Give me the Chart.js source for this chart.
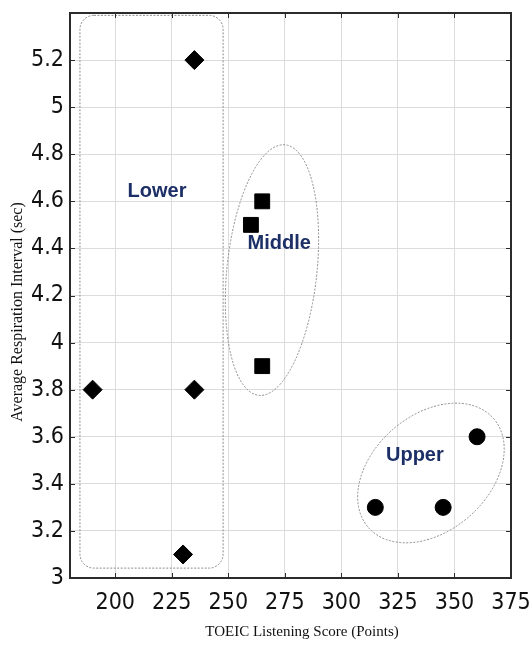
<!DOCTYPE html>
<html>
<head>
<meta charset="utf-8">
<script src="https://cdn.jsdelivr.net/npm/chart.js@4.4.0/dist/chart.umd.min.js"></script>
<style>
  html, body { margin: 0; padding: 0; background: #fff; }
  #wrap { width: 532px; height: 648px; }
</style>
</head>
<body>
<div id="wrap"><canvas id="chart"></canvas></div>
<script>
// Points per group (TOEIC score, respiration interval)
const lowerX = [235, 190, 235, 230];
const lowerY = [5.2, 3.8, 3.8, 3.1];
const middleX = [265, 260, 265];
const middleY = [4.6, 4.5, 3.9];
const upperX = [315, 345, 360];
const upperY = [3.3, 3.3, 3.6];

// Axis ticks
const xTicks = [200, 225, 250, 275, 300, 325, 350, 375];
const yTicks = [3, 3.2, 3.4, 3.6, 3.8, 4, 4.2, 4.4, 4.6, 4.8, 5, 5.2];

// Group names and where they are written (data units)
const groupNames = ["Lower", "Middle", "Upper"];
const groupNameX = [218.5, 272.5, 332.5];
const groupNameY = [4.64, 4.42, 3.52];

// Dotted outlines round each group (data units)
const lowerBox = { x0: 184.4, x1: 247.7, y0: 5.39, y1: 3.042 };
const middleEllipse = { cx: 269.3, cy: 4.308, rx: 19.9, ry: 0.535, rot: 6 };
const upperEllipse = { cx: 339.6, cy: 3.446, rx: 36.7, ry: 0.246, rot: -41 };

const tickFont = { family: "'Liberation Sans Narrow', 'DejaVu Sans Condensed', Arial, sans-serif", size: 23 };
const titleFont = "'Liberation Serif', 'Times New Roman', serif";

function toPoints(xs, ys) {
  return xs.map((v, i) => ({ x: v, y: ys[i] }));
}

// Draws outlines behind the markers
const groupOutlines = {
  id: "groupOutlines",
  beforeDatasetsDraw(chart) {
    const { ctx, scales: { x, y } } = chart;
    ctx.save();
    ctx.strokeStyle = "#8c8c8c";
    ctx.lineWidth = 1;
    ctx.setLineDash([2, 1.5]);

    // rounded box for Lower
    const bx0 = x.getPixelForValue(lowerBox.x0);
    const bx1 = x.getPixelForValue(lowerBox.x1);
    const by0 = y.getPixelForValue(lowerBox.y0);
    const by1 = y.getPixelForValue(lowerBox.y1);
    const r = 14;
    ctx.beginPath();
    ctx.moveTo(bx0 + r, by0);
    ctx.arcTo(bx1, by0, bx1, by1, r);
    ctx.arcTo(bx1, by1, bx0, by1, r);
    ctx.arcTo(bx0, by1, bx0, by0, r);
    ctx.arcTo(bx0, by0, bx1, by0, r);
    ctx.closePath();
    ctx.stroke();

    // ellipses for Middle and Upper
    [middleEllipse, upperEllipse].forEach(e => {
      const cx = x.getPixelForValue(e.cx);
      const cy = y.getPixelForValue(e.cy);
      const rx = Math.abs(x.getPixelForValue(e.cx + e.rx) - cx);
      const ry = Math.abs(y.getPixelForValue(e.cy + e.ry) - cy);
      ctx.beginPath();
      ctx.ellipse(cx, cy, rx, ry, e.rot * Math.PI / 180, 0, Math.PI * 2);
      ctx.stroke();
    });
    ctx.restore();
  },
  afterDatasetsDraw(chart) {
    const { ctx, scales: { x, y } } = chart;
    ctx.save();
    ctx.font = "bold 20px 'Liberation Sans', Arial, sans-serif";
    ctx.fillStyle = "#1c2f66";
    ctx.textAlign = "center";
    ctx.textBaseline = "middle";
    groupNames.forEach((name, i) => {
      ctx.fillText(name, x.getPixelForValue(groupNameX[i]), y.getPixelForValue(groupNameY[i]));
    });
    ctx.restore();
  },
  afterDraw(chart) {
    const { ctx, chartArea: a, scales: { x, y } } = chart;
    ctx.save();
    ctx.strokeStyle = "#2b2b2b";
    ctx.lineWidth = 1;
    // inward tick marks on all four sides
    ctx.beginPath();
    xTicks.forEach(v => {
      const px = Math.round(x.getPixelForValue(v)) + 0.5;
      ctx.moveTo(px, a.bottom); ctx.lineTo(px, a.bottom - 5);
      ctx.moveTo(px, a.top); ctx.lineTo(px, a.top + 5);
    });
    yTicks.forEach(v => {
      const py = Math.round(y.getPixelForValue(v)) + 0.5;
      ctx.moveTo(a.left, py); ctx.lineTo(a.left + 5, py);
      ctx.moveTo(a.right, py); ctx.lineTo(a.right - 5, py);
    });
    ctx.stroke();
    // frame
    ctx.lineWidth = 2;
    ctx.strokeRect(a.left, a.top, a.right - a.left, a.bottom - a.top);

    // axis titles
    ctx.fillStyle = "#111";
    ctx.textAlign = "center";
    ctx.textBaseline = "middle";
    ctx.font = "15px " + titleFont;
    ctx.fillText("TOEIC Listening Score (Points)", 302, 632);
    ctx.translate(18, 312);
    ctx.rotate(-Math.PI / 2);
    ctx.font = "16px " + titleFont;
    ctx.fillText("Average Respiration Interval (sec)", 0, 0);
    ctx.restore();
  }
};

const ctx = document.getElementById("chart").getContext("2d");
new Chart(ctx, {
  type: "scatter",
  data: {
    datasets: [
      {
        label: "Lower",
        data: toPoints(lowerX, lowerY),
        pointStyle: "rectRot",
        pointRadius: 9.5,
        backgroundColor: "#000",
        borderColor: "#000"
      },
      {
        label: "Middle",
        data: toPoints(middleX, middleY),
        pointStyle: "rect",
        pointRadius: 10.5,
        backgroundColor: "#000",
        borderColor: "#000"
      },
      {
        label: "Upper",
        data: toPoints(upperX, upperY),
        pointStyle: "circle",
        pointRadius: 8,
        backgroundColor: "#000",
        borderColor: "#000"
      }
    ]
  },
  options: {
    responsive: true,
    maintainAspectRatio: false,
    animation: false,
    layout: { padding: { top: 13, right: 21, left: 0, bottom: 0 } },
    plugins: {
      legend: { display: false },
      tooltip: { enabled: false }
    },
    scales: {
      x: {
        type: "linear",
        min: 180,
        max: 375,
        afterBuildTicks: s => { s.ticks = xTicks.map(v => ({ value: v })); },
        afterFit: s => { s.height = 70; s.paddingLeft = 0; s.paddingRight = 0; },
        border: { display: false },
        grid: { color: "#dcdcdc", drawTicks: false },
        ticks: { color: "#111", font: tickFont, padding: 11, maxRotation: 0 }
      },
      y: {
        type: "linear",
        min: 3,
        max: 5.4,
        afterBuildTicks: s => { s.ticks = yTicks.map(v => ({ value: v })); },
        afterFit: s => { s.width = 70; s.paddingTop = 0; s.paddingBottom = 0; },
        border: { display: false },
        grid: { color: "#dcdcdc", drawTicks: false },
        ticks: {
          color: "#111",
          font: tickFont,
          padding: 6,
          callback: v => String(Math.round(v * 10) / 10)
        }
      }
    }
  },
  plugins: [groupOutlines]
});
</script>
</body>
</html>
